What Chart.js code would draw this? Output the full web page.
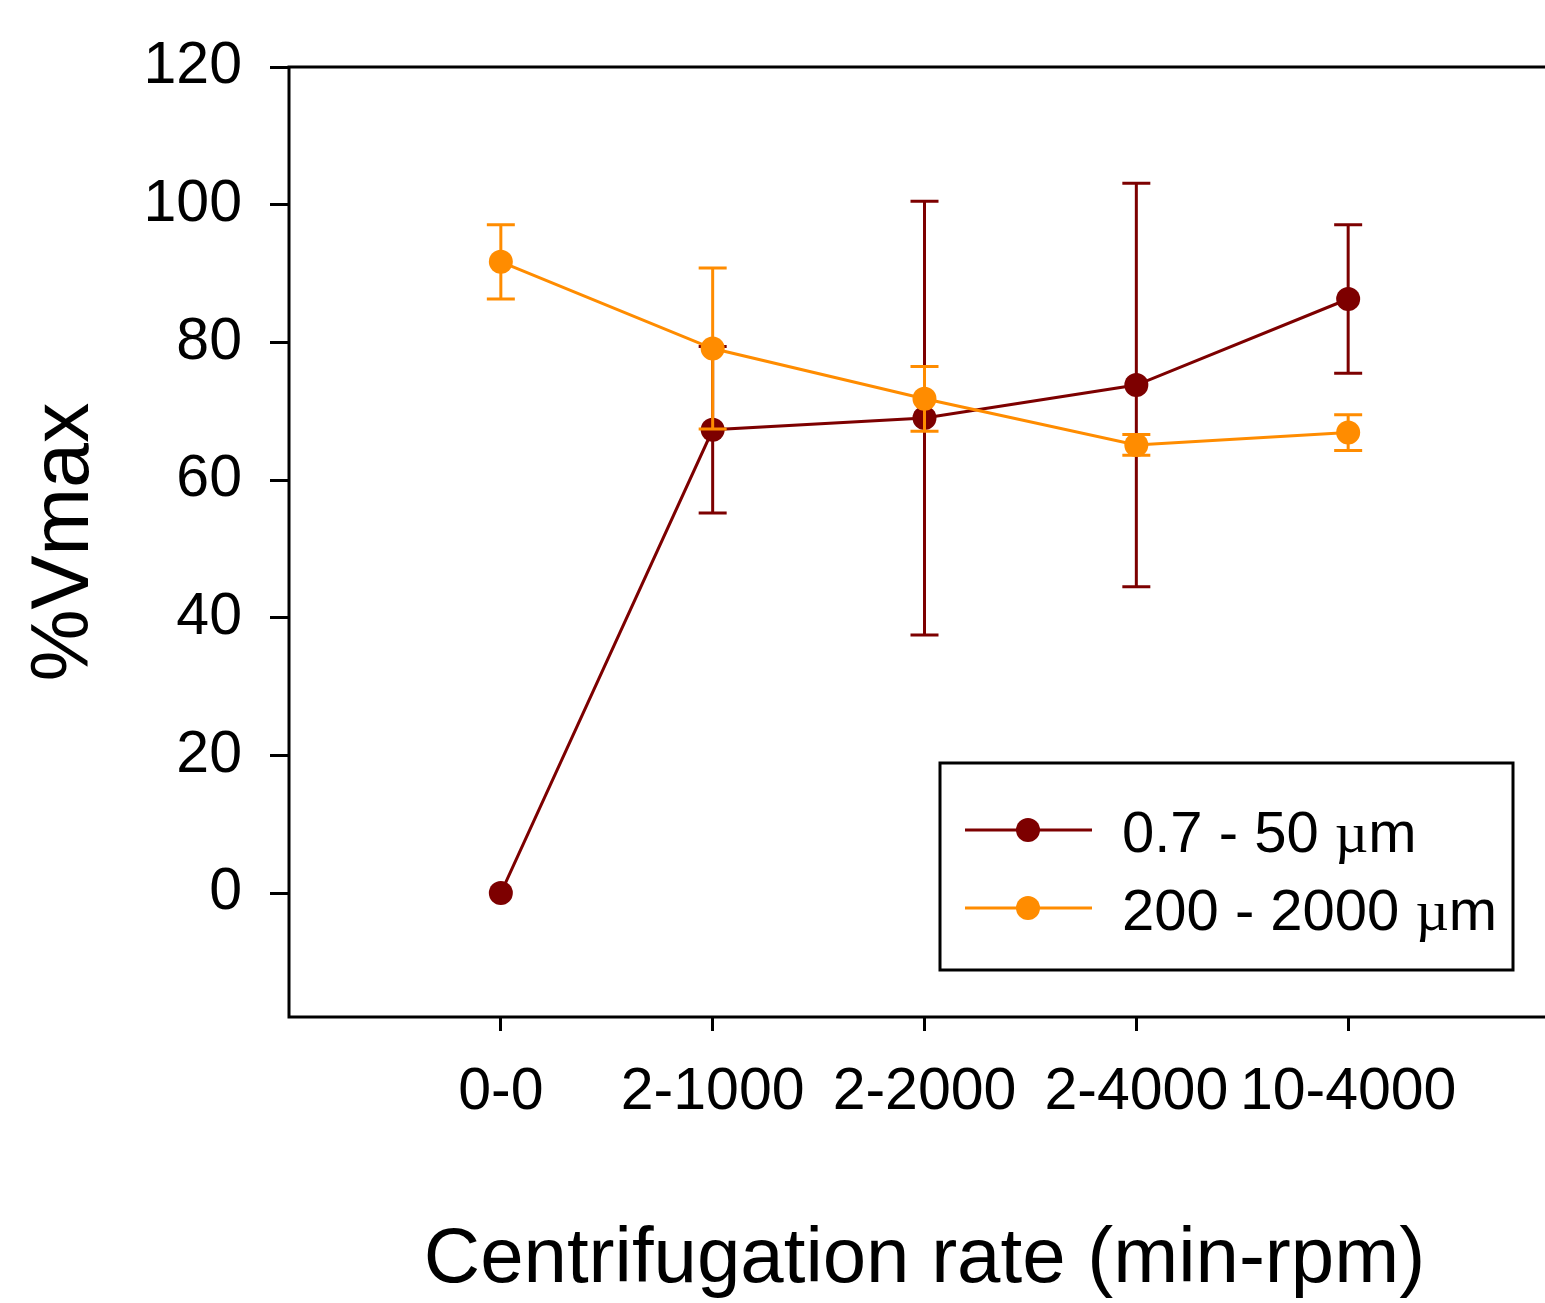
<!DOCTYPE html>
<html>
<head>
<meta charset="utf-8">
<script src="https://cdn.jsdelivr.net/npm/chart.js@4/dist/chart.umd.min.js"></script>
<style>
  html, body { margin: 0; padding: 0; background: #fff; overflow: hidden; }
  #wrap { width: 1575px; height: 1303px; }
</style>
</head>
<body>
<div id="wrap"><canvas id="rateChart"></canvas></div>
<script>
// Data
const categories = ["0-0", "2-1000", "2-2000", "2-4000", "10-4000"];
const fineMean = [0, 67.3, 69.0, 73.8, 86.3];      // 0.7 - 50 µm
const fineErr = [0, 12.1, 31.5, 29.3, 10.8];
const coarseMean = [91.7, 79.1, 71.8, 65.1, 66.9]; // 200 - 2000 µm
const coarseErr = [5.4, 11.7, 4.7, 1.5, 2.6];
const yTicks = [0, 20, 40, 60, 80, 100, 120];

const fineColor = "#7d0000";
const coarseColor = "#ff8c00";
const font = "'Liberation Sans', Arial, sans-serif";

function toPoints(values, errs) {
  return values.map((v, i) => ({ x: i, y: v, err: errs[i] }));
}

// error bars, drawn just before each dataset so its markers sit on top
const errorBars = {
  id: "errorBars",
  beforeDatasetDraw(chart, args) {
    const ds = chart.data.datasets[args.index];
    const meta = args.meta;
    const yScale = chart.scales.y;
    const ctx = chart.ctx;
    ctx.save();
    ctx.strokeStyle = ds.borderColor;
    ctx.lineWidth = 3;
    ds.data.forEach((d, i) => {
      if (!d.err) return;
      const px = meta.data[i].x;
      const top = yScale.getPixelForValue(d.y + d.err);
      const bot = yScale.getPixelForValue(d.y - d.err);
      ctx.beginPath();
      ctx.moveTo(px, top);
      ctx.lineTo(px, bot);
      ctx.moveTo(px - 14, top);
      ctx.lineTo(px + 14, top);
      ctx.moveTo(px - 14, bot);
      ctx.lineTo(px + 14, bot);
      ctx.stroke();
    });
    ctx.restore();
  },
};

// box around the plot area
const frame = {
  id: "frame",
  beforeDatasetsDraw(chart) {
    const { ctx, chartArea: a } = chart;
    ctx.save();
    ctx.strokeStyle = "#000";
    ctx.lineWidth = 3;
    ctx.strokeRect(a.left, a.top, a.right - a.left, a.bottom - a.top);
    ctx.restore();
  },
};

// legend box inside the plot
const boxLegend = {
  id: "boxLegend",
  afterDraw(chart) {
    const ctx = chart.ctx;
    const x0 = 940, y0 = 763, w = 573, h = 207;
    ctx.save();
    ctx.fillStyle = "#fff";
    ctx.fillRect(x0, y0, w, h);
    ctx.strokeStyle = "#000";
    ctx.lineWidth = 3;
    ctx.strokeRect(x0, y0, w, h);
    const rows = [chart.data.datasets[1], chart.data.datasets[0]];
    rows.forEach((ds, r) => {
      const cy = 830 + r * 78;
      ctx.strokeStyle = ds.borderColor;
      ctx.lineWidth = 3;
      ctx.beginPath();
      ctx.moveTo(965, cy);
      ctx.lineTo(1092, cy);
      ctx.stroke();
      ctx.fillStyle = ds.borderColor;
      ctx.beginPath();
      ctx.arc(1028, cy, 12, 0, Math.PI * 2);
      ctx.fill();
      // label, with the mu set in a serif face like the original
      const parts = ds.label.split("µ");
      ctx.fillStyle = "#000";
      ctx.textBaseline = "alphabetic";
      let tx = 1122;
      const by = cy + 22;
      ctx.font = "58px " + font;
      ctx.fillText(parts[0], tx, by);
      tx += ctx.measureText(parts[0]).width;
      ctx.font = "58px 'Liberation Serif', serif";
      ctx.fillText("µ", tx, by);
      tx += ctx.measureText("µ").width;
      ctx.font = "58px " + font;
      ctx.fillText(parts[1], tx, by);
    });
    ctx.restore();
  },
};

new Chart(document.getElementById("rateChart"), {
  type: "line",
  data: {
    datasets: [
      {
        label: "200 - 2000 µm",
        data: toPoints(coarseMean, coarseErr),
        borderColor: coarseColor,
        backgroundColor: coarseColor,
        borderWidth: 3,
        pointRadius: 12,
        pointBorderWidth: 0,
        pointBackgroundColor: coarseColor,
        order: 1,
      },
      {
        label: "0.7 - 50 µm",
        data: toPoints(fineMean, fineErr),
        borderColor: fineColor,
        backgroundColor: fineColor,
        borderWidth: 3,
        pointRadius: 12,
        pointBorderWidth: 0,
        pointBackgroundColor: fineColor,
        order: 2,
      },
    ],
  },
  options: {
    responsive: true,
    maintainAspectRatio: false,
    animation: false,
    layout: { padding: { top: 67, right: 15, left: 0, bottom: 0 } },
    scales: {
      x: {
        type: "linear",
        min: -1,
        max: 5,
        afterBuildTicks: (scale) => {
          scale.ticks = categories.map((c, i) => ({ value: i }));
        },
        afterFit: (scale) => {
          scale.height = 286;
        },
        border: { display: false },
        grid: {
          drawOnChartArea: false,
          drawTicks: true,
          tickLength: 14,
          tickColor: "#000",
          tickWidth: 3,
        },
        ticks: {
          color: "#000",
          padding: 26,
          maxRotation: 0,
          autoSkip: false,
          font: { family: font, size: 59 },
          callback: (v) => categories[v],
        },
        title: {
          display: true,
          text: "Centrifugation rate (min-rpm)",
          color: "#000",
          font: { family: font, size: 78, lineHeight: 1 },
          padding: { top: 0, bottom: 4 },
        },
      },
      y: {
        min: -18,
        max: 120,
        afterBuildTicks: (scale) => {
          scale.ticks = yTicks.map((v) => ({ value: v }));
        },
        afterFit: (scale) => {
          scale.width = 289;
        },
        border: { display: false },
        grid: {
          drawOnChartArea: false,
          drawTicks: true,
          tickLength: 19,
          tickColor: "#000",
          tickWidth: 3,
        },
        ticks: {
          color: "#000",
          padding: 28,
          font: { family: font, size: 59 },
        },
        title: {
          display: true,
          text: "%Vmax",
          color: "#000",
          font: { family: font, size: 81, lineHeight: 1 },
          padding: { top: 25, bottom: 0 },
        },
      },
    },
    plugins: {
      legend: { display: false },
      tooltip: { enabled: false },
    },
  },
  plugins: [errorBars, frame, boxLegend],
});
</script>
</body>
</html>
